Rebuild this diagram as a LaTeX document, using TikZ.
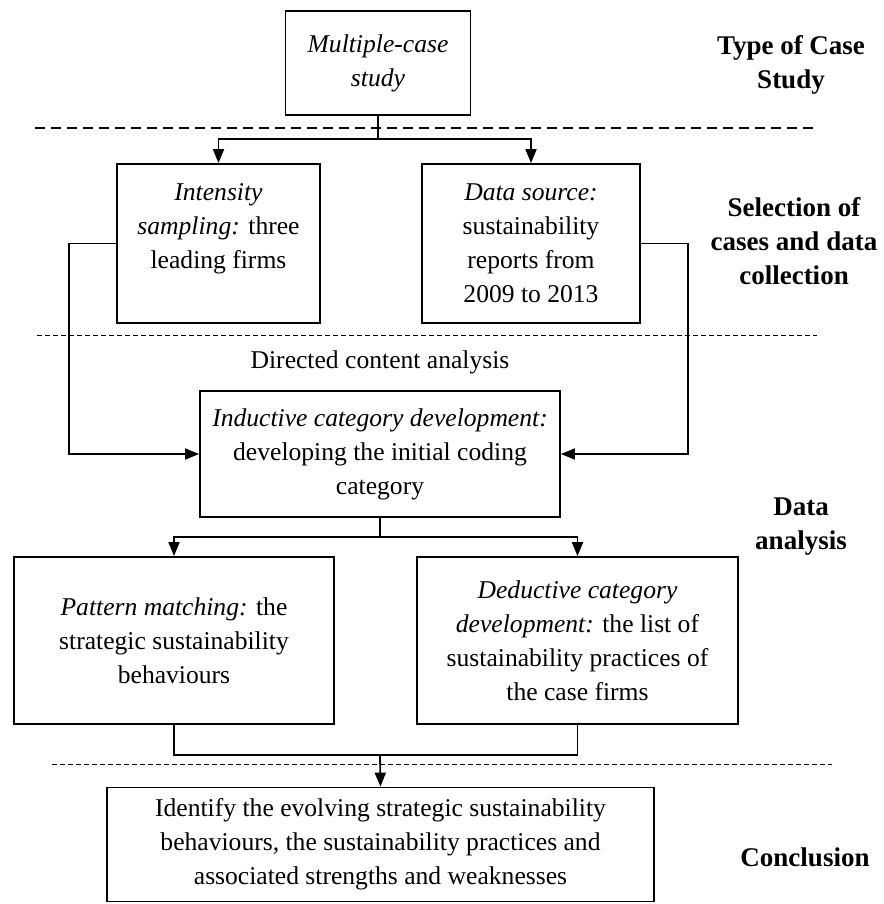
\documentclass[tikz,border=0pt]{standalone}
\usepackage{fontspec}
\setmainfont{Liberation Serif}
\usetikzlibrary{arrows.meta}

\begin{document}
\begin{tikzpicture}[x=0.5pt,y=-0.5pt,>={Triangle[length=7pt,width=5.5pt]},
  box/.style={draw,line width=0.9pt,align=center,inner sep=0pt,font=\fontsize{12.8}{17}\selectfont},
  phase/.style={align=center,font=\fontsize{13.5}{17}\selectfont\bfseries},
  flow/.style={line width=0.9pt},
  bigsep/.style={line width=0.9pt,dash pattern=on 5pt off 3pt},
  smallsep/.style={line width=0.5pt,dash pattern=on 2.5pt off 1.5pt}]
\useasboundingbox (0,0) rectangle (883,904);
% stages
\node[box,minimum width=92.5pt,minimum height=52pt] (top) at (378,63) {\textit{Multiple-case}\\\textit{study}};
\node[box,minimum width=101.5pt,minimum height=79.5pt] (intens) at (218.5,243.5) {\textit{Intensity}\\\textit{sampling:} three\\leading firms\\\mbox{}};
\node[box,minimum width=109pt,minimum height=79.5pt] (data) at (531,243.5) {\textit{Data source:}\\sustainability\\reports from\\2009 to 2013};
\node[font=\fontsize{12.8}{17}\selectfont] (dca) at (380,362) {Directed content analysis};
\node[box,minimum width=180pt,minimum height=63pt] (induct) at (380,454) {\textit{Inductive category development:}\\developing the initial coding\\category};
\node[box,minimum width=160pt,minimum height=83.5pt] (pattern) at (174,640.5) {\textit{Pattern matching:} the\\strategic sustainability\\behaviours};
\node[box,minimum width=160.5pt,minimum height=83.5pt] (deduct) at (577.5,640.5) {\textit{Deductive category}\\\textit{development:} the list of\\sustainability practices of\\the case firms};
\node[box,minimum width=273.5pt,minimum height=57pt] (concl) at (380.5,844.5) {Identify the evolving strategic sustainability\\behaviours, the sustainability practices and\\associated strengths and weaknesses};
% phase labels
\node[phase] (ph1) at (791,65) {Type of Case\\Study};
\node[phase] (ph2) at (794,241) {Selection of\\cases and data\\collection};
\node[phase] (ph3) at (801,527) {Data\\analysis};
\node[phase] (ph4) at (805,857) {Conclusion};
% separators
\draw[bigsep] (35,128) -- (816,128);
\draw[smallsep] (37,335) -- (817,335);
\draw[smallsep] (52,764) -- (832,764);
% connectors
\coordinate (b1) at (378,139);
\coordinate (b2) at (380,537);
\coordinate (b3) at (380,755);
\coordinate (lft) at (69,243.5);
\coordinate (rgt) at (688,243.5);
\draw[flow] (top.south) -- (b1);
\draw[flow,->] (b1) -| (intens.north);
\draw[flow,->] (b1) -| (data.north);
\draw[flow,->] (intens.west) -- (lft) |- (induct.west);
\draw[flow,->] (data.east) -- (rgt) |- (induct.east);
\draw[flow] (induct.south) -- (b2);
\draw[flow,->] (b2) -| (pattern.north);
\draw[flow,->] (b2) -| (deduct.north);
\draw[flow] (pattern.south) |- (b3) -| (deduct.south);
\draw[flow,->] (b3) -- (concl.north);
\end{tikzpicture}
\end{document}
